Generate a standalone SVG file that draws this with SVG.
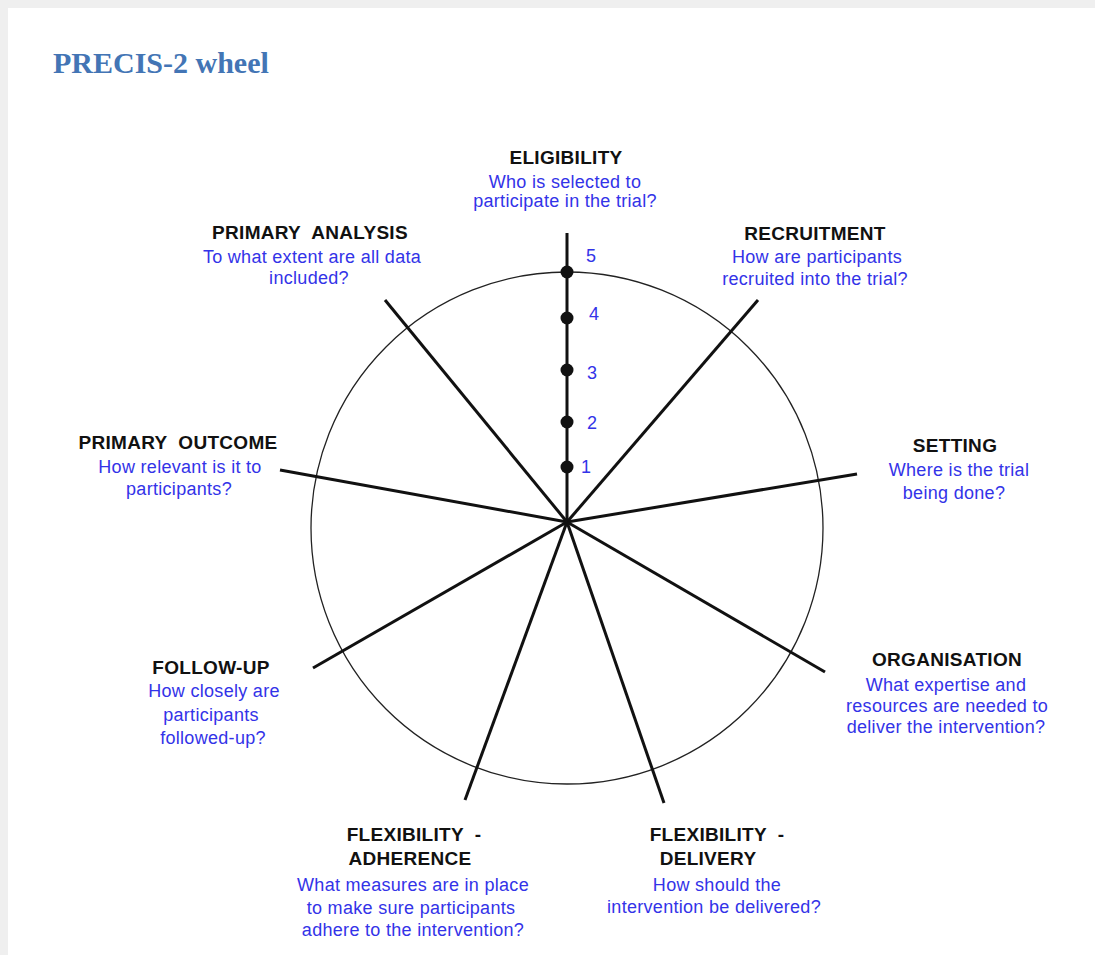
<svg xmlns="http://www.w3.org/2000/svg" width="1095" height="955" viewBox="0 0 1095 955">
<style>
.h{font-family:"Liberation Sans",Arial,sans-serif;font-weight:bold;font-size:19px;letter-spacing:0.3px;fill:#111;text-anchor:middle;white-space:pre}
.q{font-family:"Liberation Sans",Arial,sans-serif;font-size:18px;letter-spacing:0.3px;fill:#3333e8;text-anchor:middle}
.n{font-family:"Liberation Sans",Arial,sans-serif;font-size:18px;fill:#3333e8}
.sp{stroke:#111;stroke-width:3;stroke-linecap:butt;fill:none}
.d{fill:#111}
</style>
<rect x="0" y="0" width="1095" height="955" fill="#efefef"/>
<rect x="8" y="8" width="1087" height="947" fill="#ffffff"/>
<text x="53" y="73" font-family="'Liberation Serif',serif" font-weight="bold" font-size="30" fill="#4375b5">PRECIS-2 wheel</text>
<g id="wheel">
<ellipse cx="567" cy="528" rx="256" ry="256" fill="none" stroke="#222" stroke-width="1.3"/>
</g>
<g id="connectors">
<line class="sp" x1="567" y1="522" x2="567" y2="233"/>
<line class="sp" x1="567" y1="522" x2="758" y2="300"/>
<line class="sp" x1="567" y1="522" x2="857" y2="474"/>
<line class="sp" x1="567" y1="522" x2="825" y2="672"/>
<line class="sp" x1="567" y1="522" x2="664" y2="803"/>
<line class="sp" x1="567" y1="522" x2="465" y2="800"/>
<line class="sp" x1="567" y1="522" x2="313" y2="668"/>
<line class="sp" x1="567" y1="522" x2="280" y2="470"/>
<line class="sp" x1="567" y1="522" x2="385" y2="300"/>
</g>
<g id="scale">
<circle class="d" cx="567" cy="272" r="6.5"/>
<circle class="d" cx="567" cy="318" r="6.5"/>
<circle class="d" cx="567" cy="370" r="6.5"/>
<circle class="d" cx="567" cy="422" r="6.5"/>
<circle class="d" cx="567" cy="467" r="6.5"/>
<text class="n" x="586" y="262">5</text>
<text class="n" x="589" y="320">4</text>
<text class="n" x="587" y="379">3</text>
<text class="n" x="587" y="429">2</text>
<text class="n" x="581" y="473">1</text>
</g>
<g id="eligibility">
<text class="h" x="566" y="164">ELIGIBILITY</text>
<text class="q" x="565" y="188">Who is selected to</text>
<text class="q" x="565" y="207">participate in the trial?</text>
</g>
<g id="recruitment">
<text class="h" x="815" y="240">RECRUITMENT</text>
<text class="q" x="817" y="263">How are participants</text>
<text class="q" x="815" y="285">recruited into the trial?</text>
</g>
<g id="setting">
<text class="h" x="955" y="452">SETTING</text>
<text class="q" x="959" y="476">Where is the trial</text>
<text class="q" x="954" y="499">being done?</text>
</g>
<g id="organisation">
<text class="h" x="947" y="666">ORGANISATION</text>
<text class="q" x="946" y="691">What expertise and</text>
<text class="q" x="947" y="712">resources are needed to</text>
<text class="q" x="946" y="733">deliver the intervention?</text>
</g>
<g id="flexibility-delivery">
<text class="h" x="717" y="841">FLEXIBILITY  -</text>
<text class="h" x="708" y="865">DELIVERY</text>
<text class="q" x="717" y="891">How should the</text>
<text class="q" x="714" y="913">intervention be delivered?</text>
</g>
<g id="flexibility-adherence">
<text class="h" x="414" y="841">FLEXIBILITY  -</text>
<text class="h" x="410" y="865">ADHERENCE</text>
<text class="q" x="413" y="891">What measures are in place</text>
<text class="q" x="411" y="914">to make sure participants</text>
<text class="q" x="413" y="936">adhere to the intervention?</text>
</g>
<g id="follow-up">
<text class="h" x="211" y="674">FOLLOW-UP</text>
<text class="q" x="214" y="697">How closely are</text>
<text class="q" x="211" y="721">participants</text>
<text class="q" x="213" y="744">followed-up?</text>
</g>
<g id="primary-outcome">
<text class="h" x="178" y="449">PRIMARY  OUTCOME</text>
<text class="q" x="180" y="473">How relevant is it to</text>
<text class="q" x="179" y="495">participants?</text>
</g>
<g id="primary-analysis">
<text class="h" x="310" y="239">PRIMARY  ANALYSIS</text>
<text class="q" x="312" y="263">To what extent are all data</text>
<text class="q" x="309" y="284">included?</text>
</g>
</svg>
